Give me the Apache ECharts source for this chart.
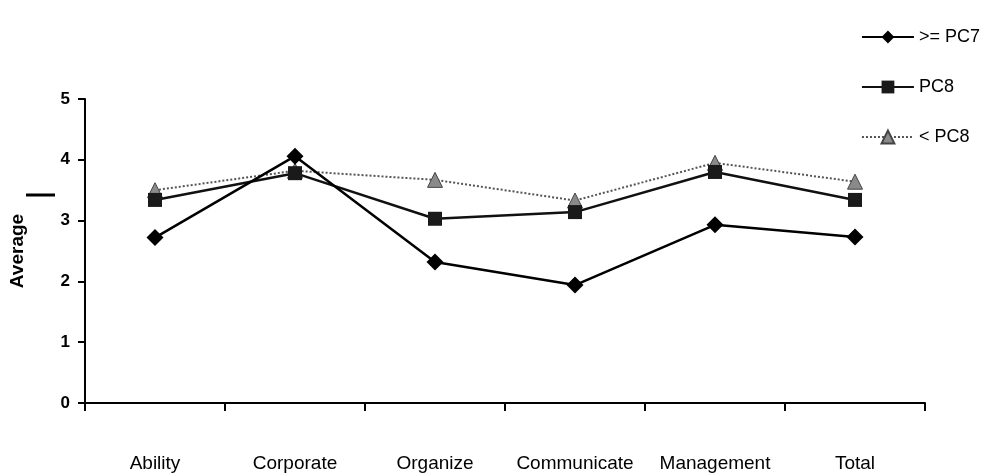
<!DOCTYPE html>
<html>
<head>
<meta charset="utf-8">
<script src="https://cdn.jsdelivr.net/npm/echarts@6/dist/echarts.min.js"></script>
<style>
  html, body { margin: 0; padding: 0; background: #fff; }
  #chart { width: 987px; height: 473px; }
</style>
</head>
<body>
<div id="chart"></div>
<script>
// Competency areas along the x axis
const categories = ['Ability', 'Corporate', 'Organize', 'Communicate', 'Management', 'Total'];

// Average scores per grade group
const seriesNames = ['>= PC7', 'PC8', '< PC8'];
const gradePC7Up = [2.72, 4.06, 2.32, 1.94, 2.93, 2.73];
const gradePC8 = [3.34, 3.78, 3.03, 3.14, 3.80, 3.34];
const gradeBelowPC8 = [3.50, 3.82, 3.67, 3.33, 3.95, 3.64];

// Value axis ticks
const yTicks = [0, 1, 2, 3, 4, 5];

const font = 'Liberation Sans, Arial, sans-serif';
const chart = echarts.init(document.getElementById('chart'));

chart.setOption({
  animation: false,
  backgroundColor: '#fff',
  textStyle: { fontFamily: font },
  grid: { left: 83, right: 62, top: 99, bottom: 70 },
  legend: {
    orient: 'vertical',
    right: 2,
    top: 23,
    itemWidth: 52,
    itemHeight: 16,
    itemGap: 32,
    textStyle: { fontFamily: font, fontSize: 18, color: '#000' },
    data: seriesNames
  },
  xAxis: {
    type: 'category',
    data: categories,
    boundaryGap: true,
    axisLine: { lineStyle: { color: '#000', width: 2 } },
    axisTick: { show: true, interval: 0, length: 8, lineStyle: { color: '#000', width: 2 } },
    axisLabel: { color: '#000', fontSize: 19, interval: 0, margin: 51, fontFamily: font },
    splitLine: { show: false }
  },
  yAxis: {
    type: 'value',
    min: yTicks[0],
    max: yTicks[yTicks.length - 1],
    interval: 1,
    name: 'Average',
    nameLocation: 'middle',
    nameGap: 58,
    nameRotate: 90,
    nameTextStyle: { color: '#000', fontSize: 19, fontWeight: 'bold', fontFamily: font },
    axisLine: { show: true, lineStyle: { color: '#000', width: 2 } },
    axisTick: { show: true, length: 7, lineStyle: { color: '#000', width: 2 } },
    axisLabel: { color: '#000', fontSize: 17, fontWeight: 'bold', margin: 15, fontFamily: font },
    splitLine: { show: false }
  },
  series: [
    {
      name: seriesNames[0],
      type: 'line',
      data: gradePC7Up,
      symbol: 'diamond',
      symbolSize: 17,
      z: 4,
      lineStyle: { color: '#000', width: 2.5 },
      itemStyle: { color: '#000' }
    },
    {
      name: seriesNames[1],
      type: 'line',
      data: gradePC8,
      symbol: 'rect',
      symbolSize: 14,
      z: 3,
      lineStyle: { color: '#111', width: 2.5 },
      itemStyle: { color: '#1a1a1a' }
    },
    {
      name: seriesNames[2],
      type: 'line',
      data: gradeBelowPC8,
      symbol: 'triangle',
      symbolSize: 15,
      z: 2,
      lineStyle: { color: '#555', width: 2, type: 'dotted' },
      itemStyle: { color: '#8a8a8a', borderColor: '#444', borderWidth: 1 }
    }
  ],
  graphic: [
    {
      // short stroke beside the axis title
      type: 'line',
      shape: { x1: 26, y1: 195, x2: 55, y2: 195 },
      style: { stroke: '#000', lineWidth: 3 }
    }
  ]
});
</script>
</body>
</html>
